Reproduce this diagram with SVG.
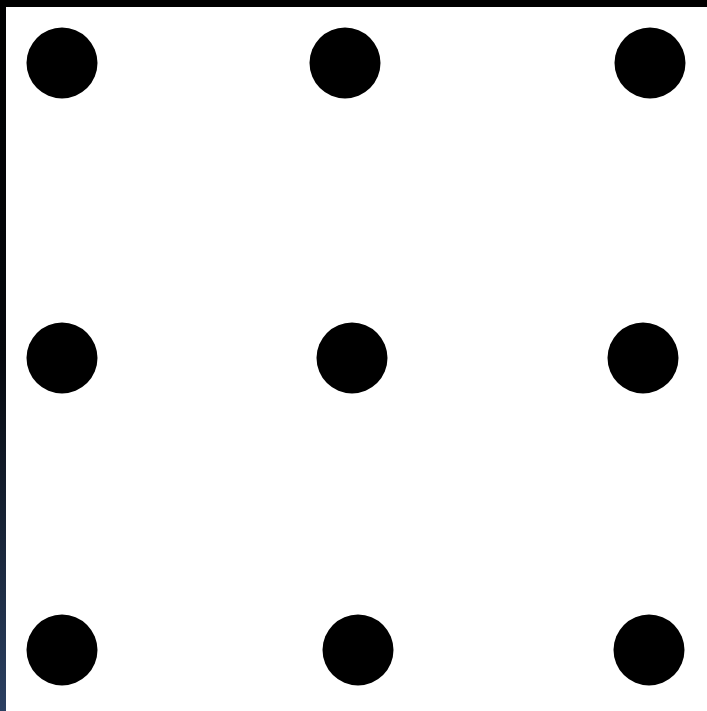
<svg xmlns="http://www.w3.org/2000/svg" width="707" height="711" viewBox="0 0 707 711">
<defs>
<linearGradient id="lg" x1="0" y1="0" x2="0" y2="1">
<stop offset="0" stop-color="#000"/>
<stop offset="0.5" stop-color="#05080d"/>
<stop offset="1" stop-color="#2b4062"/>
</linearGradient>
<style>.d{fill:#000}</style>
</defs>
<rect x="0" y="0" width="707" height="711" fill="#fff"/>
<rect x="0" y="0" width="707" height="7" fill="#000"/>
<rect x="0" y="0" width="6" height="711" fill="url(#lg)"/>
<g id="dot-1-1"><circle class="d" cx="62" cy="63" r="35.5"/></g>
<g id="dot-1-2"><circle class="d" cx="345" cy="63" r="35.5"/></g>
<g id="dot-1-3"><circle class="d" cx="650" cy="63" r="35.5"/></g>
<g id="dot-2-1"><circle class="d" cx="62" cy="358" r="35.5"/></g>
<g id="dot-2-2"><circle class="d" cx="352" cy="358" r="35.5"/></g>
<g id="dot-2-3"><circle class="d" cx="643" cy="358" r="35.5"/></g>
<g id="dot-3-1"><circle class="d" cx="62" cy="650" r="35.5"/></g>
<g id="dot-3-2"><circle class="d" cx="358" cy="650" r="35.5"/></g>
<g id="dot-3-3"><circle class="d" cx="649" cy="650" r="35.5"/></g>
<g id="connectors"/>
</svg>
